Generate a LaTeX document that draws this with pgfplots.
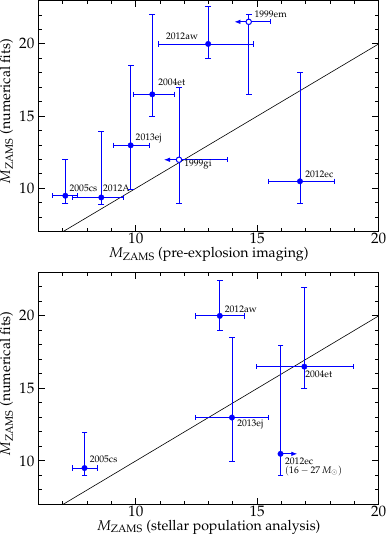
\documentclass[border=0pt]{standalone}
\usepackage[T1]{fontenc}
\usepackage{mathpazo}
\usepackage{pgfplots}
\pgfplotsset{compat=1.18}
\usepackage{pgfplotstable}
\usetikzlibrary{arrows.meta}

% ---- top panel: points ----
\pgfplotstableread{
x     y
7.10  9.49
8.58  9.37
9.79  12.98
10.68 16.51
12.98 20.00
16.76 10.49
}\topfilled
\pgfplotstableread{
x     y
11.78 11.98
14.65 21.53
}\topopen
% horizontal error bars (pairs of end points, nan separates)
\pgfplotstableread{
x     y
6.58  9.49
7.61  9.49
nan   nan
7.38  9.37
9.50  9.37
nan   nan
9.06  12.98
10.58 12.98
nan   nan
9.92  16.51
11.59 16.51
nan   nan
10.94 20.00
14.86 20.00
nan   nan
15.48 10.49
18.17 10.49
}\topH
% vertical error bars
\pgfplotstableread{
x     y
7.10  8.98
7.10  11.98
nan   nan
8.58  8.91
8.58  13.91
nan   nan
9.79  9.95
9.79  18.51
nan   nan
10.68 15.00
10.68 22.05
nan   nan
12.98 19.02
12.98 22.58
nan   nan
16.76 8.98
16.76 18.02
nan   nan
11.78 8.98
11.78 17.00
nan   nan
14.65 16.51
14.65 22.05
}\topV

% ---- bottom panel ----
\pgfplotstableread{
x     y
7.89  9.51
13.46 20.00
13.96 12.99
16.94 16.50
15.96 10.49
}\botfilled
\pgfplotstableread{
x     y
7.38  9.51
8.40  9.51
nan   nan
12.44 20.00
14.47 20.00
nan   nan
12.44 12.99
15.48 12.99
nan   nan
14.97 16.50
18.95 16.50
}\botH
\pgfplotstableread{
x     y
7.89  9.00
7.89  11.99
nan   nan
13.46 19.00
13.46 22.48
nan   nan
13.96 10.00
13.96 18.50
nan   nan
16.94 15.00
16.94 21.99
nan   nan
15.96 9.00
15.96 17.99
}\botV

\tikzset{lbl/.style={font=\fontsize{9.5}{10}\selectfont, inner sep=0pt, anchor=west}}

\pgfplotsset{
  myaxis/.style={
    scale only axis,
    width=337pt, height=229pt,
    xmin=6, xmax=20, ymin=7, ymax=23,
    xtick={10,15,20}, ytick={10,15,20},
    minor xtick={7,8,9,11,12,13,14,16,17,18,19},
    minor ytick={8,9,11,12,13,14,16,17,18,19,21,22},
    tick align=inside,
    major tick length=6.3pt, minor tick length=3.7pt,
    every tick/.style={black, line width=0.9pt},
    axis line style={line width=1.2pt},
    ticklabel style={font=\fontsize{15}{15}\selectfont},
    xticklabel style={inner sep=1.5pt},
    yticklabel style={inner sep=4pt},
    label style={font=\fontsize{14}{14}\selectfont},
    xlabel style={at={(axis description cs:0.5,0)}, anchor=north, yshift=-15pt, inner sep=0pt},
    ylabel style={at={([xshift=-25pt]axis description cs:0,0.52)}, anchor=south, inner sep=0pt},
    ylabel={$M_{\rm ZAMS}$ (numerical fits)},
    unbounded coords=jump,
  },
  hbar/.style={blue, line width=0.8pt, mark=|, mark size=2.6pt, mark options={solid, line width=0.8pt}},
  vbar/.style={blue, line width=0.8pt, mark=-, mark size=2.9pt, mark options={solid, line width=0.8pt}},
  dots/.style={blue, only marks, mark=*, mark size=2.7pt},
  lim/.style={blue, line width=0.8pt, {Bar[width=5.2pt, line width=0.8pt]}-{Latex[length=6pt, width=4.5pt]}},
}

\begin{document}
\begin{tikzpicture}
% ---------------- top panel ----------------
\begin{axis}[myaxis, at={(0,0)}, anchor=south west,
  xlabel={$M_{\rm ZAMS}$ (pre-explosion imaging)}]
\addplot[black, line width=0.6pt] coordinates {(7,7) (20,20)};
\addplot[hbar] table[x=x, y=y] {\topH};
\addplot[vbar] table[x=x, y=y] {\topV};
\addplot[lim] coordinates {(13.78,11.98) (11.16,11.98)};
\addplot[lim] coordinates {(15.54,21.53) (14.06,21.53)};
\addplot[dots] table[x=x, y=y] {\topfilled};
\addplot[dots, mark options={fill=white, draw=blue, line width=1pt}] table[x=x, y=y] {\topopen};
\node[lbl] at (axis cs:7.27,10.0) {2005cs};
\node[lbl] at (axis cs:8.65,10.0) {2012A};
\node[lbl] at (axis cs:9.99,13.44) {2013ej};
\node[lbl] at (axis cs:10.92,17.35) {2004et};
\node[lbl] at (axis cs:11.24,20.53) {2012aw};
\node[lbl] at (axis cs:14.88,22.05) {1999em};
\node[lbl] at (axis cs:11.99,11.65) {1999gi};
\node[lbl] at (axis cs:16.97,10.95) {2012ec};
\end{axis}
% ---------------- bottom panel ----------------
\begin{axis}[myaxis, at={(0,-270.3pt)}, anchor=south west, height=230pt,
  xlabel={$M_{\rm ZAMS}$ (stellar population analysis)}]
\addplot[black, line width=0.6pt] coordinates {(7,7) (20,20)};
\addplot[hbar] table[x=x, y=y] {\botH};
\addplot[vbar] table[x=x, y=y] {\botV};
\addplot[blue, line width=0.8pt, -{Latex[length=6pt, width=4.5pt]}] coordinates {(15.96,10.49) (16.65,10.49)};
\addplot[dots] table[x=x, y=y] {\botfilled};
\node[lbl] at (axis cs:8.1,10.14) {2005cs};
\node[lbl] at (axis cs:13.66,20.46) {2012aw};
\node[lbl] at (axis cs:16.97,15.97) {2004et};
\node[lbl] at (axis cs:14.17,12.5) {2013ej};
\node[lbl] at (axis cs:16.14,10.0) {2012ec};
\node[lbl] at (axis cs:16.14,9.31) {$(16-27\,M_\odot)$};
\end{axis}
\end{tikzpicture}
\end{document}
